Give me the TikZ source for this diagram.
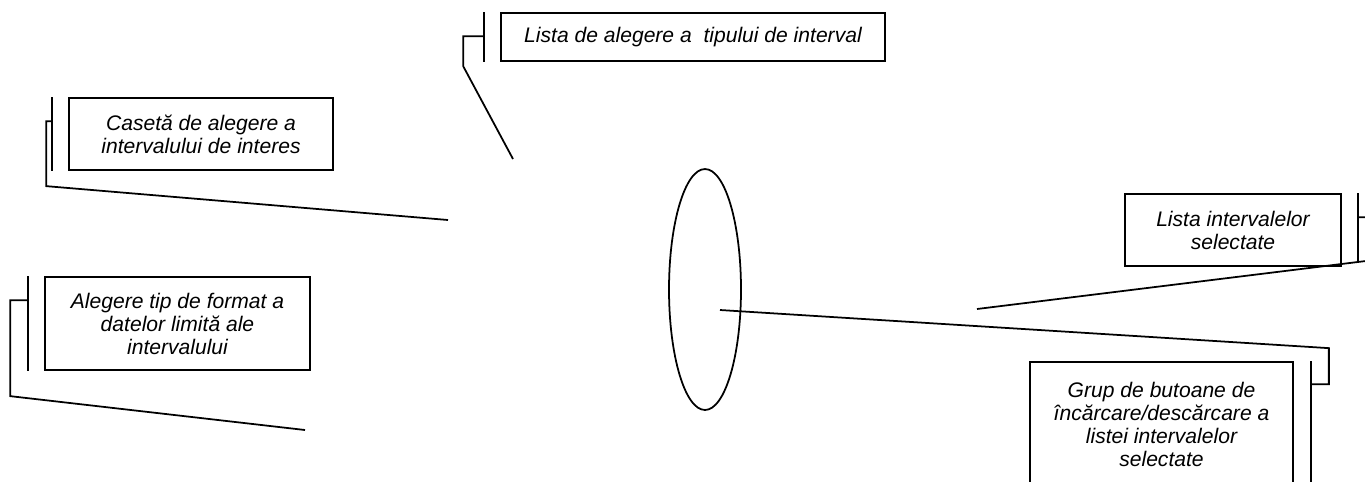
\documentclass[tikz,border=0pt]{standalone}
\usepackage{fontspec}
\setmainfont{Liberation Sans}
\usetikzlibrary{positioning,calc,shapes.geometric}

\tikzset{
  callout/.style={draw, line width=1pt, inner sep=0pt, align=center,
    font=\itshape\fontsize{12}{13.1}\selectfont},
  lead/.style={line width=1pt},
}

\begin{document}
\begin{tikzpicture}[x=0.02cm,y=-0.02cm]
\useasboundingbox (0,0) rectangle (1365,481);
\clip (0,0) rectangle (1365,481);

% boxes
\node[callout, minimum width=7.68cm, minimum height=0.96cm] (tip) at (693,37)
  {Lista de alegere a\ \ tipului de interval};
\node[callout, minimum width=5.28cm, minimum height=1.44cm] (caseta) at (201,134)
  {Casetă de alegere a\\intervalului de interes};
\node[callout, minimum width=5.3cm, minimum height=1.86cm] (format) at (177.5,323.5)
  {Alegere tip de format a\\datelor limită ale\\intervalului};
\node[callout, minimum width=4.32cm, minimum height=1.44cm] (lista) at (1233,230)
  {Lista intervalelor\\selectate};
\node[callout, minimum width=5.26cm, minimum height=2.48cm] (grup) at (1161.5,424)
  {Grup de butoane de\\încărcare/descărcare a\\listei intervalelor\\selectate};

\node[draw, ellipse, line width=1pt, inner sep=0pt, minimum width=1.44cm,
  minimum height=4.82cm] (zona) at (705,289.5) {};

\coordinate (tipend) at (513,159);
\coordinate (casetaend) at (448,220);
\coordinate (formatend) at (305,430);
\coordinate (listaend) at (977,309);
\coordinate (grupend) at ($(zona.center)+(15,20.5)$);

% accent bars
\draw[lead] ($(tip.north west)+(-16,0)$) -- ($(tip.south west)+(-16,0)$);
\draw[lead] ($(caseta.north west)+(-16,0)$) -- ($(caseta.south west)+(-16,0)$);
\draw[lead] ($(format.north west)+(-16,0)$) -- ($(format.south west)+(-16,0)$);
\draw[lead] ($(lista.north east)+(16,0)$) -- ($(lista.south east)+(16,-4)$);
\draw[lead] ($(grup.north east)+(17,0)$) -- ($(grup.south east)+(17,0)$);

% leader lines
\draw[lead] ($(tip.north west)+(-16,24)$) -- ++(-21,0) -- ++(0,30) -- (tipend);
\draw[lead] ($(caseta.north west)+(-16,24)$) -- ++(-6,0) -- ++(0,65) -- (casetaend);
\draw[lead] ($(format.north west)+(-16,24)$) -- ++(-18,0) -- ++(0,96) -- (formatend);
\draw[lead] ($(lista.north east)+(16,24)$) -- ++(15,0) -- ++(0,43) -- (listaend);
\draw[lead] ($(grup.north east)+(17,23)$) -- ++(18,0) -- ++(0,-36) -- (grupend);

\end{tikzpicture}
\end{document}
